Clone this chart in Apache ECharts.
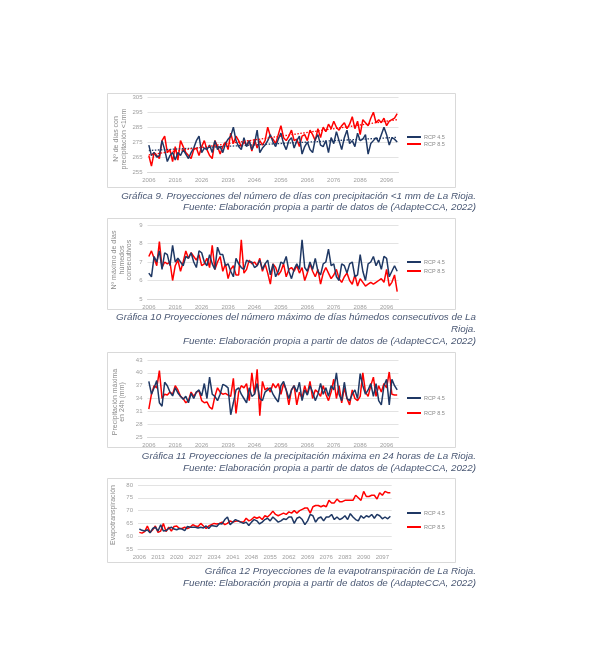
<!DOCTYPE html>
<html><head><meta charset="utf-8">
<script src="https://cdn.jsdelivr.net/npm/echarts@6/dist/echarts.min.js"></script>
<style>html,body{margin:0;padding:0;background:#fff}#c{width:600px;height:653px}</style>
</head><body><div id="c"></div>
<script>
// categories
const years = [];
for (let y = 2006; y <= 2100; y++) years.push(String(y));

// Chart 1: Nº de días con precipitación <1mm
const c1_rcp45 = [273,266,268,265,266,276,270,262,266,268, 263,268,266,270,267,264,268,271,276,279,
  268,271,270,273,268,276,270,272,268,274, 277,279,285,276,272,270,278,272,276,270,
  274,283,268,271,273,276,280,275,272,277, 281,274,270,276,278,271,276,279,267,272,
  275,270,268,277,280,273,272,276,268,278, 274,282,276,270,278,283,274,276,272,281,
  276,277,280,267,274,276,278,275,280,285, 280,273,278,277,275];
const c1_rcp85 = [266,259,268,266,264,276,279,268,270,262, 272,263,276,272,268,266,264,270,271,266,
  272,276,270,266,264,276,272,267,272,275, 270,281,274,279,276,272,275,273,276,269,
  277,271,276,273,276,285,279,277,274,280, 286,278,276,279,283,276,277,272,279,280,
  276,283,280,276,284,278,285,282,287,284, 289,285,283,286,288,284,287,292,284,289,
  280,290,288,286,291,295,288,290,288,291, 286,289,290,291,294];
const c1_trend45 = [269.4, 278.2];
const c1_trend85 = [266.5, 290.0];

// Chart 2: Nº máximo de días húmedos consecutivos
const c2_rcp45 = [6.4,6.2,7.3,7.0,7.6,6.6,7.5,7.4,6.8,7.9, 7.0,7.2,7.0,6.8,7.3,7.2,7.5,7.0,6.7,7.6,
  7.5,7.0,6.8,7.4,6.9,6.6,7.8,7.4,7.4,6.8, 6.9,6.5,6.2,7.2,6.9,6.7,6.6,7.1,7.0,7.0,
  6.7,6.8,7.1,6.6,6.9,7.1,6.3,6.9,6.2,6.5, 7.0,6.9,7.3,6.5,6.1,6.6,6.9,6.6,8.2,6.7,
  6.5,7.0,6.6,7.2,6.5,6.3,6.9,7.0,7.7,6.8, 6.9,6.2,6.0,6.9,6.8,6.4,6.9,7.0,6.2,6.3,
  7.4,6.5,6.0,6.9,7.0,7.3,6.8,7.1,6.6,7.3, 7.2,6.2,6.5,6.8,6.5];
const c2_rcp85 = [7.3,7.6,7.2,6.8,8.1,6.7,7.0,6.9,7.0,6.0, 6.8,7.1,6.5,7.0,7.6,7.2,7.5,7.3,7.1,7.4,
  6.8,6.9,7.2,6.7,7.9,6.6,7.0,7.3,6.5,6.9, 6.1,6.6,6.8,6.3,6.3,8.2,6.4,6.6,7.1,6.9,
  7.0,6.8,7.2,6.5,6.9,6.4,5.8,6.9,6.7,6.3, 6.5,6.9,6.2,6.6,6.7,6.5,6.8,6.4,6.7,6.0,
  6.4,6.9,6.5,6.2,6.6,5.8,6.4,6.7,6.4,6.1, 6.3,6.6,6.1,5.9,6.2,6.4,6.0,5.8,6.3,5.7,
  6.1,5.9,5.7,5.8,5.9,5.8,5.9,6.0,6.1,5.9, 6.6,5.7,5.9,6.3,5.4];

// Chart 3: Precipitación máxima en 24h (mm)
const c3_rcp45 = [38.0,35.0,36.5,38.2,33.0,32.2,37.8,37.0,35.5,34.6, 36.5,35.3,34.5,33.8,34.5,33.0,35.2,34.0,35.5,36.0,
  34.6,37.5,34.0,39.0,35.0,34.5,33.5,35.0,37.3,37.0, 36.5,30.2,33.0,36.0,36.5,35.0,34.0,33.0,36.5,34.5,
  35.0,37.5,34.0,33.5,35.5,36.0,36.5,35.0,34.0,33.2, 37.0,38.0,36.0,34.0,36.0,37.0,35.5,37.8,33.5,36.0,
  34.8,37.0,35.5,33.5,35.0,37.5,35.0,36.5,34.5,37.0, 36.0,40.0,35.0,33.5,37.8,34.0,33.5,35.0,36.0,34.0,
  39.8,37.0,35.0,36.0,37.5,34.5,37.5,33.5,32.5,37.0, 38.5,32.5,38.5,37.0,36.0];
const c3_rcp85 = [31.5,35.0,37.0,36.5,40.5,34.0,35.0,34.8,35.5,35.0, 37.0,36.0,34.5,34.0,33.0,33.5,35.5,34.5,35.5,35.8,
  33.5,33.0,33.2,32.0,31.5,34.5,36.5,35.5,35.0,35.2, 34.8,34.5,38.7,30.5,35.5,37.0,36.5,37.5,33.5,40.0,
  35.0,40.8,30.0,38.0,36.0,36.5,35.5,37.5,36.5,37.5, 35.0,37.5,36.0,32.5,36.0,37.0,32.5,35.5,34.0,37.0,
  35.0,38.0,34.0,36.0,35.5,34.5,37.0,35.0,33.5,35.5, 38.5,34.0,37.0,33.0,36.5,34.0,32.5,36.0,34.0,33.5,
  34.5,40.0,35.5,34.5,37.0,39.0,34.5,37.0,35.5,37.5, 36.5,40.2,35.0,34.8,34.8];

// Chart 4: Evapotranspiración
const c4_rcp45 = [62.8,62.3,62.0,62.5,61.3,63.0,63.5,62.0,64.5,62.0, 62.2,63.0,63.5,62.8,62.5,63.0,62.8,62.2,63.8,63.5,
  63.5,63.5,63.2,63.5,63.2,64.0,63.0,64.2,64.0,63.8, 65.0,64.8,66.5,67.5,64.5,65.5,66.5,66.0,65.5,65.0,
  65.5,64.2,65.5,66.5,66.0,64.8,65.5,66.5,67.0,66.0, 67.5,66.5,65.5,66.0,66.8,66.5,67.5,67.5,65.0,67.0,
  67.5,66.5,64.5,66.0,68.5,68.0,65.5,67.0,67.5,66.0, 67.5,67.5,68.5,66.5,67.5,66.5,67.0,68.0,66.5,68.8,
  67.5,66.5,66.0,68.0,67.0,68.0,67.5,68.5,67.0,68.5, 68.0,66.8,67.5,66.8,67.8];
const c4_rcp85 = [61.5,61.2,61.8,64.0,61.5,62.5,64.0,61.5,62.0,65.0, 61.8,63.5,62.0,63.8,64.0,63.0,63.0,63.5,63.0,63.5,
  64.5,64.0,63.8,65.0,64.0,63.0,64.0,64.5,65.0,64.8, 65.0,65.5,64.5,65.0,66.0,65.5,65.8,66.0,65.5,65.5,
  67.0,66.0,66.5,67.5,67.0,67.5,66.5,68.0,67.5,68.5, 69.8,68.5,68.0,68.5,69.0,68.5,69.5,69.0,70.0,69.0,
  70.0,70.5,71.0,71.0,69.0,71.5,72.0,72.0,71.5,72.0, 71.5,74.0,73.0,73.0,74.5,73.5,73.5,74.0,74.0,74.0,
  74.0,76.0,75.0,74.0,77.5,75.5,75.5,76.0,76.0,74.5, 77.0,76.0,77.5,77.0,77.0];

// axis ranges / ticks
const yMin = [255, 5, 25, 55];
const yMax = [305, 9, 43, 80];
const yStep = [10, 1, 3, 5];
const xLabelEvery = [10, 10, 10, 7];

const yNames = ['Nº de días con\nprecipitación <1mm', 'Nº máximo de días\nhúmedos\nconsecutivos',
  'Precipitación máxima\nen 24h (mm)', 'Evapotranspiración'];
const captions = [
  ['Gráfica 9. Proyecciones del número de días con precipitación <1 mm de La Rioja.',
   'Fuente: Elaboración propia a partir de datos de (AdapteCCA, 2022)'],
  ['Gráfica 10 Proyecciones del número máximo de días húmedos consecutivos de La',
   'Rioja.',
   'Fuente: Elaboración propia a partir de datos de (AdapteCCA, 2022)'],
  ['Gráfica 11 Proyecciones de la precipitación máxima en 24 horas de La Rioja.',
   'Fuente: Elaboración propia a partir de datos de (AdapteCCA, 2022)'],
  ['Gráfica 12 Proyecciones de la evapotranspiración de La Rioja.',
   'Fuente: Elaboración propia a partir de datos de (AdapteCCA, 2022)']
];
const seriesNames = ['RCP 4.5', 'RCP 8.5'];

// layout
const NAVY = '#1f3864', RED = '#ff0000', GRAYTXT = '#a0a0a0';
const grids = [
  {left: 147.5, top: 97.3, width: 251, height: 74.7},
  {left: 147.5, top: 225, width: 251, height: 74},
  {left: 147.5, top: 360, width: 251, height: 77},
  {left: 138, top: 485, width: 253.7, height: 64}
];
const boxes = [[107, 93, 348, 94], [107, 218, 348, 91], [107, 352, 348, 95], [107, 478, 348, 84]];
const legendTop = [134, 259, 395, 510];
const legendGap = [1, 3, 9, 8];
const yNamePos = [[120, 139], [122, 260], [118.5, 402], [113, 515]];
const captionY = [[196, 207.5], [317, 329.5, 341.5], [456, 468], [571.5, 583]];

const data = [[c1_rcp45, c1_rcp85], [c2_rcp45, c2_rcp85], [c3_rcp45, c3_rcp85], [c4_rcp45, c4_rcp85]];

const option = {
  backgroundColor: '#fff',
  animation: false,
  grid: grids.map(g => Object.assign({containLabel: false}, g)),
  xAxis: grids.map((g, i) => ({
    type: 'category', gridIndex: i, data: years, boundaryGap: true,
    axisLine: {lineStyle: {color: '#d9d9d9', width: 1}},
    axisTick: {show: false},
    axisLabel: {interval: xLabelEvery[i] - 1, color: GRAYTXT, fontSize: 6, margin: 5, fontFamily: 'Liberation Sans'}
  })),
  yAxis: grids.map((g, i) => ({
    type: 'value', gridIndex: i, min: yMin[i], max: yMax[i], interval: yStep[i],
    axisLine: {show: false}, axisTick: {show: false},
    splitLine: {lineStyle: {color: '#e3e3e3', width: 1}},
    axisLabel: {color: GRAYTXT, fontSize: 6, margin: 5, fontFamily: 'Liberation Sans'}
  })),
  legend: grids.map((g, i) => ({
    data: seriesNames, orient: 'vertical', left: 407, top: legendTop[i], padding: 0,
    itemWidth: 14, itemHeight: 2, itemGap: legendGap[i], icon: 'rect',
    textStyle: {color: '#8a8a8a', fontSize: 5.5, fontFamily: 'Liberation Sans', padding: [0, 0, 0, -2]},
    selectedMode: false
  })),
  series: [],
  graphic: []
};

data.forEach((pair, i) => {
  pair.forEach((vals, k) => {
    option.series.push({
      name: seriesNames[k], type: 'line', xAxisIndex: i, yAxisIndex: i, data: vals,
      showSymbol: false, symbol: 'none', z: k === 0 ? 3 : 2,
      lineStyle: {color: k === 0 ? NAVY : RED, width: 1.5},
      itemStyle: {color: k === 0 ? NAVY : RED}
    });
  });
});

// chart 1 linear trend lines (dotted)
[[c1_trend45, NAVY], [c1_trend85, RED]].forEach(([tr, col], k) => {
  const arr = years.map(() => null);
  arr[0] = tr[0]; arr[arr.length - 1] = tr[1];
  option.series.push({
    name: 'trend' + k, type: 'line', xAxisIndex: 0, yAxisIndex: 0, data: arr,
    connectNulls: true, showSymbol: false, symbol: 'none', z: 4,
    lineStyle: {color: col, width: 1.3, type: [1.5, 1.5]}
  });
});

boxes.forEach(b => option.graphic.push({
  type: 'rect', shape: {x: b[0] + 0.5, y: b[1] + 0.5, width: b[2], height: b[3]},
  style: {fill: 'none', stroke: '#d9d9d9', lineWidth: 1}, z: 0
}));

yNames.forEach((t, i) => option.graphic.push({
  type: 'text', x: yNamePos[i][0], y: yNamePos[i][1], rotation: Math.PI / 2,
  style: {text: t, x: 0, y: 0, align: 'center', verticalAlign: 'middle', fill: '#8a8a8a',
    font: '7px "Liberation Sans"', lineHeight: 7.5}
}));

captions.forEach((lines, i) => lines.forEach((t, j) => option.graphic.push({
  type: 'text', x: 476, y: captionY[i][j],
  style: {text: t, x: 0, y: 0, align: 'right', verticalAlign: 'middle', fill: '#4a5874',
    font: 'italic 9.8px "Liberation Sans"'}
})));

const chart = echarts.init(document.getElementById('c'), null, {renderer: 'canvas'});
chart.setOption(option);
</script>
</body></html>
